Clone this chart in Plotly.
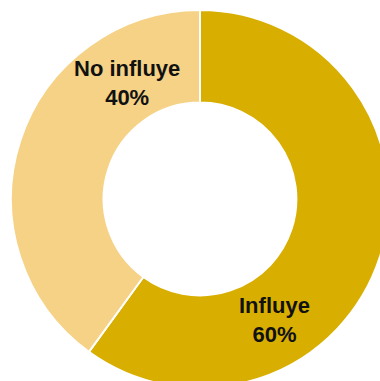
import plotly.graph_objects as go

# Survey answer shares
labels = ["Influye", "No influye"]
values = [60, 40]
colors = ["#D8AE00", "#F5D286"]

# Label anchor points in paper coordinates for each slice
label_x = [0.696, 0.307]
label_y = [0.180, 0.807]

W, H = 400, 400
ML, MT = 11, 10
SIDE = 378

fig = go.Figure(
    go.Pie(
        labels=labels,
        values=values,
        hole=0.51,
        sort=False,
        direction="clockwise",
        rotation=0,
        marker=dict(colors=colors, line=dict(color="white", width=2)),
        textinfo="none",
        hoverinfo="label+percent",
        showlegend=False,
    )
)

for lab, val, x, y in zip(labels, values, label_x, label_y):
    fig.add_annotation(
        x=x, y=y, xref="paper", yref="paper",
        xanchor="center", yanchor="middle",
        text=f"<b>{lab}<br>{val}%</b>",
        showarrow=False,
        font=dict(family="Liberation Sans, Arial, sans-serif", size=22, color="#111111"),
        align="center",
    )

fig.update_layout(
    width=W,
    height=H,
    margin=dict(l=ML, t=MT, r=W - ML - SIDE, b=H - MT - SIDE, pad=0),
    paper_bgcolor="white",
    plot_bgcolor="white",
)

fig.write_html(
    "out.html",
    config={"displayModeBar": False},
    post_script="document.documentElement.style.overflow='hidden';document.body.style.overflow='hidden';document.body.style.margin='0';",
)
